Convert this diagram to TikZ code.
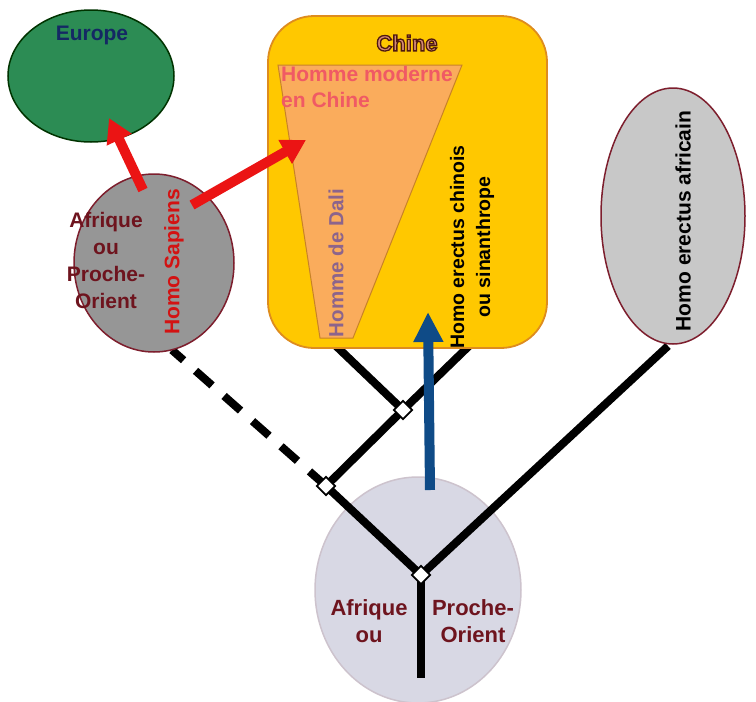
\documentclass[tikz,border=0pt]{standalone}
\usepackage{fontspec}
\setmainfont{Liberation Sans}
\usetikzlibrary{shapes.geometric,arrows.meta}
\definecolor{eugreen}{RGB}{44,140,84}
\definecolor{eutext}{RGB}{20,40,100}
\definecolor{chyellow}{RGB}{255,200,0}
\definecolor{chborder}{RGB}{222,140,30}
\definecolor{trapfill}{RGB}{250,172,92}
\definecolor{trapborder}{RGB}{200,130,40}
\definecolor{pinktext}{RGB}{240,90,100}
\definecolor{dalitext}{RGB}{140,100,140}
\definecolor{lightgrey}{RGB}{200,200,200}
\definecolor{midgrey}{RGB}{150,150,150}
\definecolor{darkred}{RGB}{110,20,30}
\definecolor{ellborder}{RGB}{125,30,45}
\definecolor{arrred}{RGB}{235,20,20}
\definecolor{arrblue}{RGB}{15,75,135}
\definecolor{lavender}{RGB}{216,216,228}
\definecolor{lavborder}{RGB}{205,195,205}
\definecolor{chinetext}{RGB}{80,25,15}
\definecolor{chinefill}{RGB}{215,140,120}
\newcommand{\outlinedtxt}[1]{\textcolor{chinefill}{\special{pdf:literal direct 0.31 0.098 0.059 RG 1.3 w 2 Tr}#1\special{pdf:literal direct 0 Tr}}}
\begin{document}
\begin{tikzpicture}[x=1pt,y=-1pt,
  ell/.style={ellipse,draw,line width=1.5pt,inner sep=0pt},
  branch/.style={line width=8pt,black},
  junction/.style={draw=black,fill=white,line width=1.8pt,minimum size=13pt,inner sep=0pt,rotate=45},
  lbl/.style={font=\bfseries,align=center,inner sep=0pt},
  redarrow/.style={arrred,line width=10pt,-{Triangle[width=26pt,length=24pt]}},
  bluearrow/.style={arrblue,line width=10pt,-{Triangle[width=28pt,length=30pt]}}
]
\useasboundingbox (0,0) rectangle (756,702);
\fill[white] (0,0) rectangle (756,702);

% bottom ellipse
\node[ell,draw=lavborder,fill=lavender,minimum width=206pt,minimum height=226pt] (base) at (418,590) {};
\node[lbl,text=darkred,font=\bfseries\fontsize{22}{27}\selectfont] (afr) at (369,621) {Afrique\\ou};
\node[lbl,text=darkred,font=\bfseries\fontsize{22}{27}\selectfont] (po) at (473,621) {Proche-\\Orient};

% junctions coordinates
\coordinate (j1) at (421,575);
\coordinate (j2) at (326,486);
\coordinate (j3) at (403,410);
\coordinate (trunk) at (421,678);
\coordinate (afend) at (668,346);
\coordinate (sapend) at (172,350);
\coordinate (chl) at (335,345);
\coordinate (chr) at (470,345);

% branches
\draw[branch] (j1) -- (trunk);
\draw[branch] (j1) -- (afend);
\draw[branch] (j1) -- (j2);
\draw[branch,dash pattern=on 22pt off 16pt] (j2) -- (sapend);
\draw[branch] (j2) -- (j3);
\draw[branch] (j3) -- (chl);
\draw[branch] (j3) -- (chr);

% Europe
\node[ell,draw=black!80!green,fill=eugreen,minimum width=166pt,minimum height=132pt] (eu) at (91,76) {};
\node[lbl,text=eutext,font=\bfseries\fontsize{21}{22}\selectfont] (eut) at (92,35) {Europe};

% Chine box
\node[draw=chborder,fill=chyellow,line width=1.8pt,rounded corners=46pt,minimum width=279pt,minimum height=332pt,inner sep=0pt] (chine) at (407.5,182) {};
\node[lbl,font=\bfseries\fontsize{22}{24}\selectfont] (cht) at (407,43) {\outlinedtxt{Chine}};
\draw[draw=trapborder,fill=trapfill,line width=1pt] (278,65) -- (462,65) -- (353,338) -- (320,338) -- cycle;
\node[lbl,text=pinktext,font=\bfseries\fontsize{21}{26}\selectfont,align=left,anchor=north west] (hm) at (281,66) {Homme moderne\\en Chine};
\node[lbl,text=dalitext,font=\bfseries\fontsize{20.5}{22}\selectfont,rotate=90] (dali) at (336,263) {Homme de Dali};
\node[lbl,text=black,font=\bfseries\fontsize{19.5}{26}\selectfont,rotate=90] (hec) at (472,247) {Homo erectus chinois\\ou sinanthrope};

% Homo erectus africain
\node[ell,draw=ellborder,fill=lightgrey,minimum width=144pt,minimum height=256pt] (afric) at (673,216) {};
\node[lbl,text=black,font=\bfseries\fontsize{21}{22}\selectfont,rotate=90] (afrt) at (683,221) {Homo erectus africain};

% Homo sapiens
\node[ell,draw=ellborder,fill=midgrey,minimum width=160pt,minimum height=178pt] (sap) at (154,263) {};
\node[lbl,text=darkred,font=\bfseries\fontsize{21}{27}\selectfont] (sapt) at (106,260) {Afrique\\ou\\Proche-\\Orient};
\node[lbl,text=arrred!90!black,font=\bfseries\fontsize{21}{22}\selectfont,rotate=90] (hs) at (174,262) {Homo Sapiens};

% junction diamonds
\node[junction] (d1) at (j1) {};
\node[junction] (d2) at (j2) {};
\node[junction] (d3) at (j3) {};

% arrows
\coordinate (r1s) at (143,190);
\coordinate (r1e) at (109,118);
\coordinate (r2s) at (192,205);
\coordinate (r2e) at (306,140);
\coordinate (bs) at (430,490);
\coordinate (be) at (428,312);
\draw[redarrow] (r1s) -- (r1e);
\draw[redarrow] (r2s) -- (r2e);
\draw[bluearrow] (bs) -- (be);
\end{tikzpicture}
\end{document}
